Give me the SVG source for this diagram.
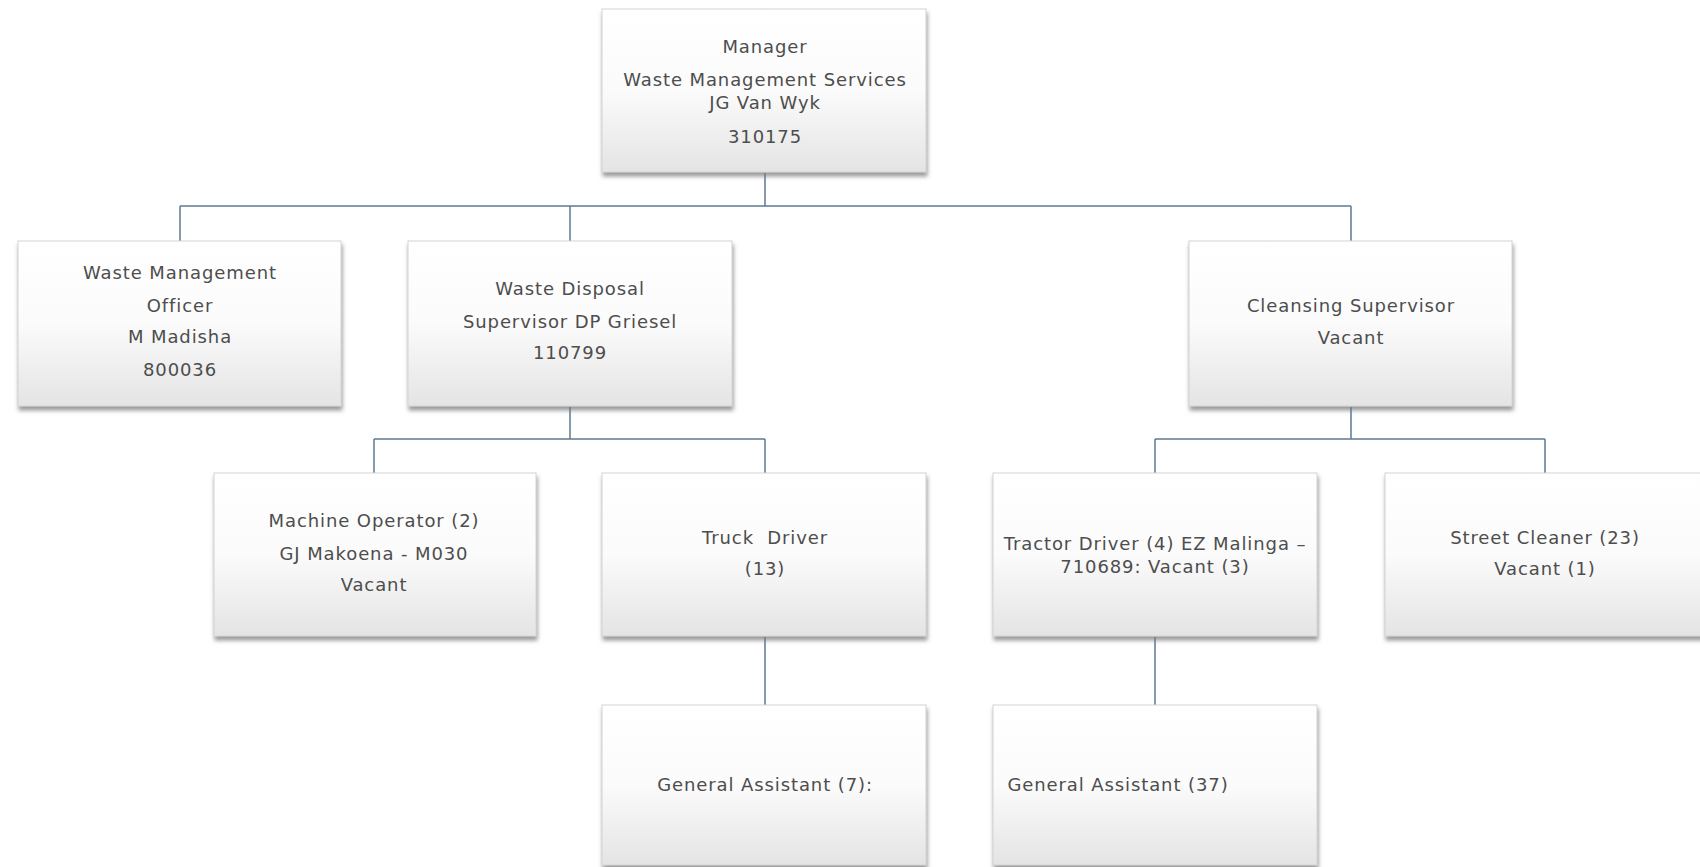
<svg xmlns="http://www.w3.org/2000/svg" width="1700" height="867" viewBox="0 0 1700 867">
  <style>
    .box { fill: url(#boxFill); stroke: #d4d4d4; stroke-width: 1; filter: url(#shadow); }
    .lbl { font-family: "DejaVu Sans", "Liberation Sans", sans-serif; font-size: 18px; letter-spacing: 0.9px; fill: #4d4d4d; text-anchor: middle; }
    .link { fill: none; stroke: #5d7a93; stroke-width: 1.5; }
  </style>
  <defs>
    <linearGradient id="boxFill" x1="0" y1="0" x2="0" y2="1">
      <stop offset="0" stop-color="#ffffff"/>
      <stop offset="0.5" stop-color="#fbfbfb"/>
      <stop offset="1" stop-color="#e4e4e4"/>
    </linearGradient>
    <filter id="shadow" x="-5%" y="-5%" width="112%" height="115%">
      <feDropShadow dx="1" dy="4" stdDeviation="2" flood-color="#777777" flood-opacity="0.75"/>
    </filter>
  </defs>

  <rect width="1700" height="867" fill="#ffffff"/>

  <!-- reporting lines -->
  <g id="connectors">
    <path class="link" d="M765 173 V206 M180 206 H1351 M180 206 V241 M570 206 V241 M1351 206 V241"/>
    <path class="link" d="M570 407 V439 M374 439 H765 M374 439 V473 M765 439 V473"/>
    <path class="link" d="M1351 407 V439 M1155 439 H1545 M1155 439 V473 M1545 439 V473"/>
    <path class="link" d="M765 637 V705 M1155 637 V705"/>
  </g>

  <g id="manager">
    <rect class="box" x="602" y="9" width="324" height="163"/>
    <text class="lbl" x="765" y="53">Manager</text>
    <text class="lbl" x="765" y="86">Waste Management Services</text>
    <text class="lbl" x="765" y="109">JG Van Wyk</text>
    <text class="lbl" x="765" y="143">310175</text>
  </g>

  <g id="waste-management-officer">
    <rect class="box" x="18" y="241" width="323" height="165"/>
    <text class="lbl" x="180" y="279">Waste Management</text>
    <text class="lbl" x="180" y="312">Officer</text>
    <text class="lbl" x="180" y="343">M Madisha</text>
    <text class="lbl" x="180" y="376">800036</text>
  </g>

  <g id="waste-disposal-supervisor">
    <rect class="box" x="408" y="241" width="324" height="165"/>
    <text class="lbl" x="570" y="295">Waste Disposal</text>
    <text class="lbl" x="570" y="328">Supervisor DP Griesel</text>
    <text class="lbl" x="570" y="359">110799</text>
  </g>

  <g id="cleansing-supervisor">
    <rect class="box" x="1189" y="241" width="323" height="165"/>
    <text class="lbl" x="1351" y="312">Cleansing Supervisor</text>
    <text class="lbl" x="1351" y="344">Vacant</text>
  </g>

  <g id="machine-operator">
    <rect class="box" x="214" y="473" width="322" height="163"/>
    <text class="lbl" x="374" y="527">Machine Operator (2)</text>
    <text class="lbl" x="374" y="560">GJ Makoena - M030</text>
    <text class="lbl" x="374" y="591">Vacant</text>
  </g>

  <g id="truck-driver">
    <rect class="box" x="602" y="473" width="324" height="163"/>
    <text class="lbl" x="765" y="544" xml:space="preserve">Truck  Driver</text>
    <text class="lbl" x="765" y="575">(13)</text>
  </g>

  <g id="tractor-driver">
    <rect class="box" x="993" y="473" width="324" height="163"/>
    <text class="lbl" x="1155" y="550">Tractor Driver (4) EZ Malinga –</text>
    <text class="lbl" x="1155" y="573">710689: Vacant (3)</text>
  </g>

  <g id="street-cleaner">
    <rect class="box" x="1385" y="473" width="322" height="163"/>
    <text class="lbl" x="1545" y="544">Street Cleaner (23)</text>
    <text class="lbl" x="1545" y="575">Vacant (1)</text>
  </g>

  <g id="general-assistant-7">
    <rect class="box" x="602" y="705" width="324" height="160"/>
    <text class="lbl" x="765" y="791">General Assistant (7):</text>
  </g>

  <g id="general-assistant-37">
    <rect class="box" x="993" y="705" width="324" height="160"/>
    <text class="lbl" x="1118" y="791">General Assistant (37)</text>
  </g>
</svg>
